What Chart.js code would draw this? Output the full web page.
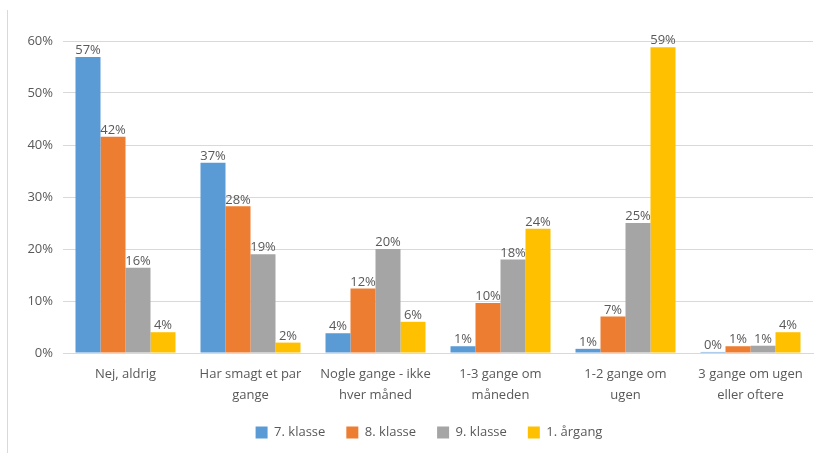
<!DOCTYPE html>
<html>
<head>
<meta charset="utf-8">
<script src="https://cdn.jsdelivr.net/npm/chart.js@4/dist/chart.umd.min.js"></script>
<style>
  html, body { margin: 0; padding: 0; background: #fff; }
  #wrap { width: 820px; height: 453px; position: relative; }
</style>
</head>
<body>
<div id="wrap"><canvas id="c" width="820" height="453"></canvas></div>
<script>
const categories = [
  ['Nej, aldrig'],
  ['Har smagt et par', 'gange'],
  ['Nogle gange - ikke', 'hver måned'],
  ['1-3 gange om', 'måneden'],
  ['1-2 gange om', 'ugen'],
  ['3 gange om ugen', 'eller oftere']
];
const seriesNames = ['7. klasse', '8. klasse', '9. klasse', '1. årgang'];
const klasse7 = [56.9, 36.6, 3.8, 1.3, 0.8, 0.2];
const klasse8 = [41.6, 28.2, 12.4, 9.6, 7.0, 1.3];
const klasse9 = [16.4, 19.0, 20.0, 18.0, 25.0, 1.4];
const aargang1 = [4.0, 2.0, 6.0, 23.9, 58.8, 4.0];
const yTicks = [0, 10, 20, 30, 40, 50, 60];

const colors = ['#5B9BD5', '#ED7D31', '#A5A5A5', '#FFC000'];
const values = [klasse7, klasse8, klasse9, aargang1];
const FONT = "'Open Sans', 'DejaVu Sans', sans-serif";
const TXT = '#595959';

const dataLabelPlugin = {
  id: 'dataLabels',
  afterDatasetsDraw(chart) {
    const ctx = chart.ctx;
    ctx.save();
    ctx.font = '13px ' + FONT;
    ctx.fillStyle = TXT;
    ctx.textAlign = 'center';
    ctx.textBaseline = 'bottom';
    chart.data.datasets.forEach((ds, i) => {
      const meta = chart.getDatasetMeta(i);
      meta.data.forEach((bar, j) => {
        ctx.fillText(Math.round(ds.data[j]) + '%', bar.x, bar.y);
      });
    });
    ctx.restore();
  }
};

const borderPlugin = {
  id: 'leftBorder',
  afterLayout(chart) {
    // the original chart frame is wider than the visible crop: legend centre sits right of canvas centre
    if (chart.legend) { chart.legend.left += 19; chart.legend.right += 19; }
  },
  beforeDraw(chart) {
    const ctx = chart.ctx;
    ctx.save();
    ctx.strokeStyle = '#D9D9D9';
    ctx.lineWidth = 1;
    ctx.beginPath();
    ctx.moveTo(7.5, 10);
    ctx.lineTo(7.5, 453);
    ctx.stroke();
    ctx.restore();
  }
};

new Chart(document.getElementById('c'), {
  type: 'bar',
  data: {
    labels: categories,
    datasets: seriesNames.map((name, i) => ({
      label: name,
      data: values[i],
      backgroundColor: colors[i],
      borderWidth: 0,
      categoryPercentage: 0.8,
      barPercentage: 1.0
    }))
  },
  options: {
    responsive: false,
    animation: false,
    devicePixelRatio: 1,
    layout: { padding: { left: 7, right: 7, top: 41, bottom: 4 } },
    plugins: {
      legend: {
        position: 'bottom',
        labels: {
          boxWidth: 12, boxHeight: 12, padding: 21,
          color: TXT,
          font: { family: FONT, size: 13 }
        }
      },
      tooltip: { enabled: false }
    },
    scales: {
      y: {
        min: 0, max: 60,
        afterBuildTicks(scale) { scale.ticks = yTicks.map(v => ({ value: v })); },
        afterFit(scale) { scale.width = 56; },
        ticks: {
          padding: 10,
          color: TXT,
          font: { family: FONT, size: 13 },
          callback: v => v + '%'
        },
        grid: { color: '#D9D9D9', drawTicks: false },
        border: { display: false }
      },
      x: {
        afterFit(scale) { scale.height = 52; },
        ticks: {
          padding: 11,
          color: TXT,
          maxRotation: 0,
          autoSkip: false,
          font: { family: FONT, size: 13, lineHeight: 1.6 }
        },
        grid: { display: false, drawTicks: false },
        border: { color: '#D9D9D9' }
      }
    }
  },
  plugins: [borderPlugin, dataLabelPlugin]
});
</script>
</body>
</html>
